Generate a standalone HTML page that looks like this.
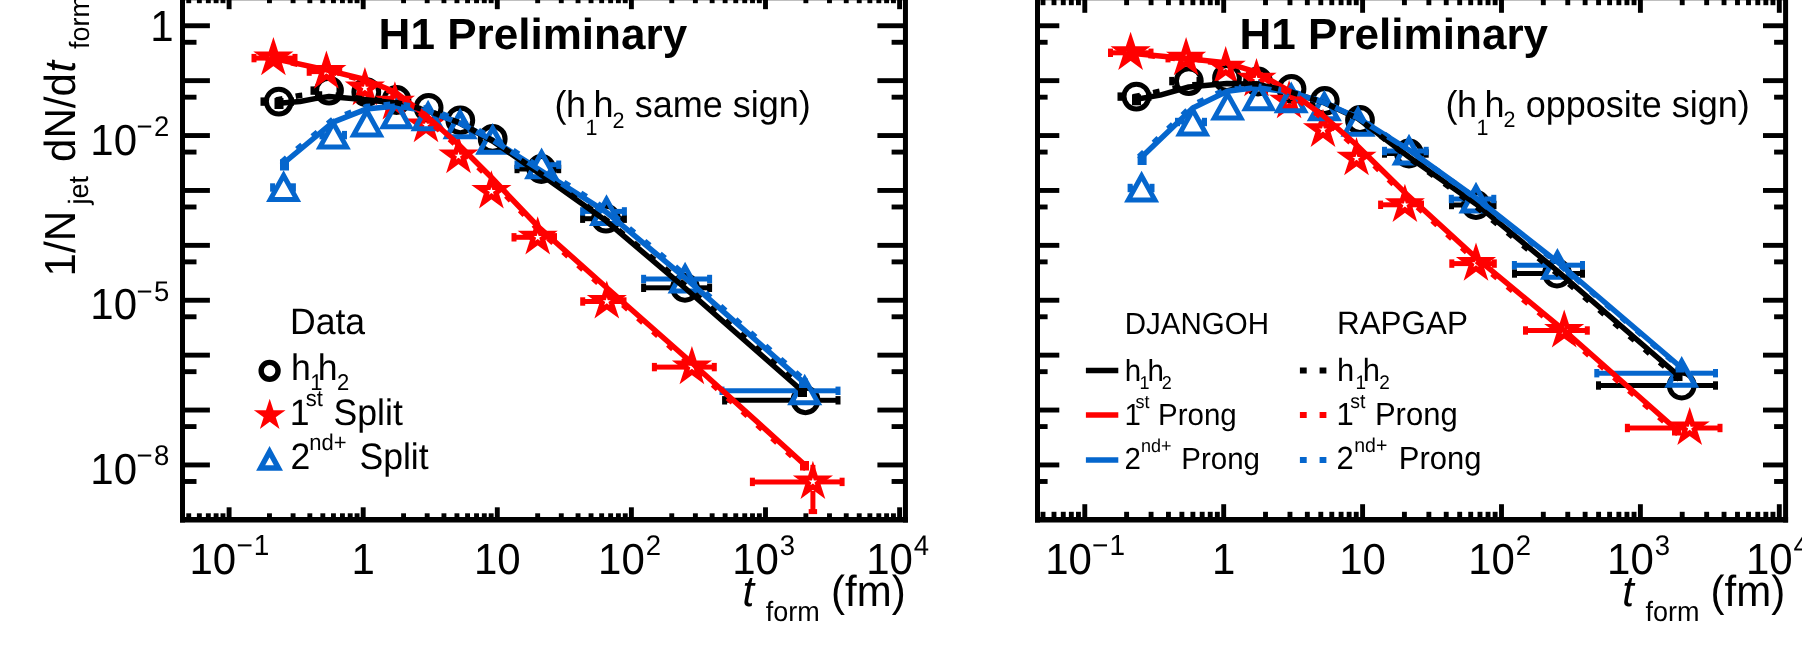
<!DOCTYPE html>
<html><head><meta charset="utf-8"><title>t_form</title>
<style>html,body{margin:0;padding:0;background:#fff;}svg{display:block;will-change:transform;}text{text-rendering:geometricPrecision;}</style>
</head><body>
<svg width="1802" height="658" viewBox="0 0 1802 658" font-family='"Liberation Sans", sans-serif' fill="#000000">
<rect x="0" y="0" width="1802" height="658" fill="#ffffff"/>
<line x1="188.73" y1="519.85" x2="188.73" y2="513.30" stroke="#000000" stroke-width="4.9" />
<line x1="188.73" y1="-2.50" x2="188.73" y2="3.20" stroke="#000000" stroke-width="4.9" />
<line x1="199.35" y1="519.85" x2="199.35" y2="513.30" stroke="#000000" stroke-width="4.9" />
<line x1="199.35" y1="-2.50" x2="199.35" y2="3.20" stroke="#000000" stroke-width="4.9" />
<line x1="208.33" y1="519.85" x2="208.33" y2="513.30" stroke="#000000" stroke-width="4.9" />
<line x1="208.33" y1="-2.50" x2="208.33" y2="3.20" stroke="#000000" stroke-width="4.9" />
<line x1="216.10" y1="519.85" x2="216.10" y2="513.30" stroke="#000000" stroke-width="4.9" />
<line x1="216.10" y1="-2.50" x2="216.10" y2="3.20" stroke="#000000" stroke-width="4.9" />
<line x1="222.96" y1="519.85" x2="222.96" y2="513.30" stroke="#000000" stroke-width="4.9" />
<line x1="222.96" y1="-2.50" x2="222.96" y2="3.20" stroke="#000000" stroke-width="4.9" />
<line x1="229.10" y1="519.85" x2="229.10" y2="507.30" stroke="#000000" stroke-width="4.9" />
<line x1="229.10" y1="-2.50" x2="229.10" y2="9.20" stroke="#000000" stroke-width="4.9" />
<line x1="269.47" y1="519.85" x2="269.47" y2="513.30" stroke="#000000" stroke-width="4.9" />
<line x1="269.47" y1="-2.50" x2="269.47" y2="3.20" stroke="#000000" stroke-width="4.9" />
<line x1="293.08" y1="519.85" x2="293.08" y2="513.30" stroke="#000000" stroke-width="4.9" />
<line x1="293.08" y1="-2.50" x2="293.08" y2="3.20" stroke="#000000" stroke-width="4.9" />
<line x1="309.84" y1="519.85" x2="309.84" y2="513.30" stroke="#000000" stroke-width="4.9" />
<line x1="309.84" y1="-2.50" x2="309.84" y2="3.20" stroke="#000000" stroke-width="4.9" />
<line x1="322.83" y1="519.85" x2="322.83" y2="513.30" stroke="#000000" stroke-width="4.9" />
<line x1="322.83" y1="-2.50" x2="322.83" y2="3.20" stroke="#000000" stroke-width="4.9" />
<line x1="333.45" y1="519.85" x2="333.45" y2="513.30" stroke="#000000" stroke-width="4.9" />
<line x1="333.45" y1="-2.50" x2="333.45" y2="3.20" stroke="#000000" stroke-width="4.9" />
<line x1="342.43" y1="519.85" x2="342.43" y2="513.30" stroke="#000000" stroke-width="4.9" />
<line x1="342.43" y1="-2.50" x2="342.43" y2="3.20" stroke="#000000" stroke-width="4.9" />
<line x1="350.20" y1="519.85" x2="350.20" y2="513.30" stroke="#000000" stroke-width="4.9" />
<line x1="350.20" y1="-2.50" x2="350.20" y2="3.20" stroke="#000000" stroke-width="4.9" />
<line x1="357.06" y1="519.85" x2="357.06" y2="513.30" stroke="#000000" stroke-width="4.9" />
<line x1="357.06" y1="-2.50" x2="357.06" y2="3.20" stroke="#000000" stroke-width="4.9" />
<line x1="363.20" y1="519.85" x2="363.20" y2="507.30" stroke="#000000" stroke-width="4.9" />
<line x1="363.20" y1="-2.50" x2="363.20" y2="9.20" stroke="#000000" stroke-width="4.9" />
<line x1="403.57" y1="519.85" x2="403.57" y2="513.30" stroke="#000000" stroke-width="4.9" />
<line x1="403.57" y1="-2.50" x2="403.57" y2="3.20" stroke="#000000" stroke-width="4.9" />
<line x1="427.18" y1="519.85" x2="427.18" y2="513.30" stroke="#000000" stroke-width="4.9" />
<line x1="427.18" y1="-2.50" x2="427.18" y2="3.20" stroke="#000000" stroke-width="4.9" />
<line x1="443.94" y1="519.85" x2="443.94" y2="513.30" stroke="#000000" stroke-width="4.9" />
<line x1="443.94" y1="-2.50" x2="443.94" y2="3.20" stroke="#000000" stroke-width="4.9" />
<line x1="456.93" y1="519.85" x2="456.93" y2="513.30" stroke="#000000" stroke-width="4.9" />
<line x1="456.93" y1="-2.50" x2="456.93" y2="3.20" stroke="#000000" stroke-width="4.9" />
<line x1="467.55" y1="519.85" x2="467.55" y2="513.30" stroke="#000000" stroke-width="4.9" />
<line x1="467.55" y1="-2.50" x2="467.55" y2="3.20" stroke="#000000" stroke-width="4.9" />
<line x1="476.53" y1="519.85" x2="476.53" y2="513.30" stroke="#000000" stroke-width="4.9" />
<line x1="476.53" y1="-2.50" x2="476.53" y2="3.20" stroke="#000000" stroke-width="4.9" />
<line x1="484.30" y1="519.85" x2="484.30" y2="513.30" stroke="#000000" stroke-width="4.9" />
<line x1="484.30" y1="-2.50" x2="484.30" y2="3.20" stroke="#000000" stroke-width="4.9" />
<line x1="491.16" y1="519.85" x2="491.16" y2="513.30" stroke="#000000" stroke-width="4.9" />
<line x1="491.16" y1="-2.50" x2="491.16" y2="3.20" stroke="#000000" stroke-width="4.9" />
<line x1="497.30" y1="519.85" x2="497.30" y2="507.30" stroke="#000000" stroke-width="4.9" />
<line x1="497.30" y1="-2.50" x2="497.30" y2="9.20" stroke="#000000" stroke-width="4.9" />
<line x1="537.67" y1="519.85" x2="537.67" y2="513.30" stroke="#000000" stroke-width="4.9" />
<line x1="537.67" y1="-2.50" x2="537.67" y2="3.20" stroke="#000000" stroke-width="4.9" />
<line x1="561.28" y1="519.85" x2="561.28" y2="513.30" stroke="#000000" stroke-width="4.9" />
<line x1="561.28" y1="-2.50" x2="561.28" y2="3.20" stroke="#000000" stroke-width="4.9" />
<line x1="578.04" y1="519.85" x2="578.04" y2="513.30" stroke="#000000" stroke-width="4.9" />
<line x1="578.04" y1="-2.50" x2="578.04" y2="3.20" stroke="#000000" stroke-width="4.9" />
<line x1="591.03" y1="519.85" x2="591.03" y2="513.30" stroke="#000000" stroke-width="4.9" />
<line x1="591.03" y1="-2.50" x2="591.03" y2="3.20" stroke="#000000" stroke-width="4.9" />
<line x1="601.65" y1="519.85" x2="601.65" y2="513.30" stroke="#000000" stroke-width="4.9" />
<line x1="601.65" y1="-2.50" x2="601.65" y2="3.20" stroke="#000000" stroke-width="4.9" />
<line x1="610.63" y1="519.85" x2="610.63" y2="513.30" stroke="#000000" stroke-width="4.9" />
<line x1="610.63" y1="-2.50" x2="610.63" y2="3.20" stroke="#000000" stroke-width="4.9" />
<line x1="618.40" y1="519.85" x2="618.40" y2="513.30" stroke="#000000" stroke-width="4.9" />
<line x1="618.40" y1="-2.50" x2="618.40" y2="3.20" stroke="#000000" stroke-width="4.9" />
<line x1="625.26" y1="519.85" x2="625.26" y2="513.30" stroke="#000000" stroke-width="4.9" />
<line x1="625.26" y1="-2.50" x2="625.26" y2="3.20" stroke="#000000" stroke-width="4.9" />
<line x1="631.40" y1="519.85" x2="631.40" y2="507.30" stroke="#000000" stroke-width="4.9" />
<line x1="631.40" y1="-2.50" x2="631.40" y2="9.20" stroke="#000000" stroke-width="4.9" />
<line x1="671.77" y1="519.85" x2="671.77" y2="513.30" stroke="#000000" stroke-width="4.9" />
<line x1="671.77" y1="-2.50" x2="671.77" y2="3.20" stroke="#000000" stroke-width="4.9" />
<line x1="695.38" y1="519.85" x2="695.38" y2="513.30" stroke="#000000" stroke-width="4.9" />
<line x1="695.38" y1="-2.50" x2="695.38" y2="3.20" stroke="#000000" stroke-width="4.9" />
<line x1="712.14" y1="519.85" x2="712.14" y2="513.30" stroke="#000000" stroke-width="4.9" />
<line x1="712.14" y1="-2.50" x2="712.14" y2="3.20" stroke="#000000" stroke-width="4.9" />
<line x1="725.13" y1="519.85" x2="725.13" y2="513.30" stroke="#000000" stroke-width="4.9" />
<line x1="725.13" y1="-2.50" x2="725.13" y2="3.20" stroke="#000000" stroke-width="4.9" />
<line x1="735.75" y1="519.85" x2="735.75" y2="513.30" stroke="#000000" stroke-width="4.9" />
<line x1="735.75" y1="-2.50" x2="735.75" y2="3.20" stroke="#000000" stroke-width="4.9" />
<line x1="744.73" y1="519.85" x2="744.73" y2="513.30" stroke="#000000" stroke-width="4.9" />
<line x1="744.73" y1="-2.50" x2="744.73" y2="3.20" stroke="#000000" stroke-width="4.9" />
<line x1="752.50" y1="519.85" x2="752.50" y2="513.30" stroke="#000000" stroke-width="4.9" />
<line x1="752.50" y1="-2.50" x2="752.50" y2="3.20" stroke="#000000" stroke-width="4.9" />
<line x1="759.36" y1="519.85" x2="759.36" y2="513.30" stroke="#000000" stroke-width="4.9" />
<line x1="759.36" y1="-2.50" x2="759.36" y2="3.20" stroke="#000000" stroke-width="4.9" />
<line x1="765.50" y1="519.85" x2="765.50" y2="507.30" stroke="#000000" stroke-width="4.9" />
<line x1="765.50" y1="-2.50" x2="765.50" y2="9.20" stroke="#000000" stroke-width="4.9" />
<line x1="805.87" y1="519.85" x2="805.87" y2="513.30" stroke="#000000" stroke-width="4.9" />
<line x1="805.87" y1="-2.50" x2="805.87" y2="3.20" stroke="#000000" stroke-width="4.9" />
<line x1="829.48" y1="519.85" x2="829.48" y2="513.30" stroke="#000000" stroke-width="4.9" />
<line x1="829.48" y1="-2.50" x2="829.48" y2="3.20" stroke="#000000" stroke-width="4.9" />
<line x1="846.24" y1="519.85" x2="846.24" y2="513.30" stroke="#000000" stroke-width="4.9" />
<line x1="846.24" y1="-2.50" x2="846.24" y2="3.20" stroke="#000000" stroke-width="4.9" />
<line x1="859.23" y1="519.85" x2="859.23" y2="513.30" stroke="#000000" stroke-width="4.9" />
<line x1="859.23" y1="-2.50" x2="859.23" y2="3.20" stroke="#000000" stroke-width="4.9" />
<line x1="869.85" y1="519.85" x2="869.85" y2="513.30" stroke="#000000" stroke-width="4.9" />
<line x1="869.85" y1="-2.50" x2="869.85" y2="3.20" stroke="#000000" stroke-width="4.9" />
<line x1="878.83" y1="519.85" x2="878.83" y2="513.30" stroke="#000000" stroke-width="4.9" />
<line x1="878.83" y1="-2.50" x2="878.83" y2="3.20" stroke="#000000" stroke-width="4.9" />
<line x1="886.60" y1="519.85" x2="886.60" y2="513.30" stroke="#000000" stroke-width="4.9" />
<line x1="886.60" y1="-2.50" x2="886.60" y2="3.20" stroke="#000000" stroke-width="4.9" />
<line x1="893.46" y1="519.85" x2="893.46" y2="513.30" stroke="#000000" stroke-width="4.9" />
<line x1="893.46" y1="-2.50" x2="893.46" y2="3.20" stroke="#000000" stroke-width="4.9" />
<line x1="899.60" y1="519.85" x2="899.60" y2="507.30" stroke="#000000" stroke-width="4.9" />
<line x1="899.60" y1="-2.50" x2="899.60" y2="9.20" stroke="#000000" stroke-width="4.9" />
<line x1="182.50" y1="25.75" x2="209.90" y2="25.75" stroke="#000000" stroke-width="4.9" />
<line x1="905.45" y1="25.75" x2="877.40" y2="25.75" stroke="#000000" stroke-width="4.9" />
<line x1="182.50" y1="42.28" x2="196.50" y2="42.28" stroke="#000000" stroke-width="4.9" />
<line x1="905.45" y1="42.28" x2="891.60" y2="42.28" stroke="#000000" stroke-width="4.9" />
<line x1="182.50" y1="80.65" x2="209.90" y2="80.65" stroke="#000000" stroke-width="4.9" />
<line x1="905.45" y1="80.65" x2="877.40" y2="80.65" stroke="#000000" stroke-width="4.9" />
<line x1="182.50" y1="97.18" x2="196.50" y2="97.18" stroke="#000000" stroke-width="4.9" />
<line x1="905.45" y1="97.18" x2="891.60" y2="97.18" stroke="#000000" stroke-width="4.9" />
<line x1="182.50" y1="135.55" x2="209.90" y2="135.55" stroke="#000000" stroke-width="4.9" />
<line x1="905.45" y1="135.55" x2="877.40" y2="135.55" stroke="#000000" stroke-width="4.9" />
<line x1="182.50" y1="152.08" x2="196.50" y2="152.08" stroke="#000000" stroke-width="4.9" />
<line x1="905.45" y1="152.08" x2="891.60" y2="152.08" stroke="#000000" stroke-width="4.9" />
<line x1="182.50" y1="190.45" x2="209.90" y2="190.45" stroke="#000000" stroke-width="4.9" />
<line x1="905.45" y1="190.45" x2="877.40" y2="190.45" stroke="#000000" stroke-width="4.9" />
<line x1="182.50" y1="206.98" x2="196.50" y2="206.98" stroke="#000000" stroke-width="4.9" />
<line x1="905.45" y1="206.98" x2="891.60" y2="206.98" stroke="#000000" stroke-width="4.9" />
<line x1="182.50" y1="245.35" x2="209.90" y2="245.35" stroke="#000000" stroke-width="4.9" />
<line x1="905.45" y1="245.35" x2="877.40" y2="245.35" stroke="#000000" stroke-width="4.9" />
<line x1="182.50" y1="261.88" x2="196.50" y2="261.88" stroke="#000000" stroke-width="4.9" />
<line x1="905.45" y1="261.88" x2="891.60" y2="261.88" stroke="#000000" stroke-width="4.9" />
<line x1="182.50" y1="300.25" x2="209.90" y2="300.25" stroke="#000000" stroke-width="4.9" />
<line x1="905.45" y1="300.25" x2="877.40" y2="300.25" stroke="#000000" stroke-width="4.9" />
<line x1="182.50" y1="316.78" x2="196.50" y2="316.78" stroke="#000000" stroke-width="4.9" />
<line x1="905.45" y1="316.78" x2="891.60" y2="316.78" stroke="#000000" stroke-width="4.9" />
<line x1="182.50" y1="355.15" x2="209.90" y2="355.15" stroke="#000000" stroke-width="4.9" />
<line x1="905.45" y1="355.15" x2="877.40" y2="355.15" stroke="#000000" stroke-width="4.9" />
<line x1="182.50" y1="371.68" x2="196.50" y2="371.68" stroke="#000000" stroke-width="4.9" />
<line x1="905.45" y1="371.68" x2="891.60" y2="371.68" stroke="#000000" stroke-width="4.9" />
<line x1="182.50" y1="410.05" x2="209.90" y2="410.05" stroke="#000000" stroke-width="4.9" />
<line x1="905.45" y1="410.05" x2="877.40" y2="410.05" stroke="#000000" stroke-width="4.9" />
<line x1="182.50" y1="426.58" x2="196.50" y2="426.58" stroke="#000000" stroke-width="4.9" />
<line x1="905.45" y1="426.58" x2="891.60" y2="426.58" stroke="#000000" stroke-width="4.9" />
<line x1="182.50" y1="464.95" x2="209.90" y2="464.95" stroke="#000000" stroke-width="4.9" />
<line x1="905.45" y1="464.95" x2="877.40" y2="464.95" stroke="#000000" stroke-width="4.9" />
<line x1="182.50" y1="481.48" x2="196.50" y2="481.48" stroke="#000000" stroke-width="4.9" />
<line x1="905.45" y1="481.48" x2="891.60" y2="481.48" stroke="#000000" stroke-width="4.9" />
<line x1="182.50" y1="-10.00" x2="182.50" y2="522.60" stroke="#000000" stroke-width="5" />
<line x1="905.45" y1="-10.00" x2="905.45" y2="522.60" stroke="#000000" stroke-width="5" />
<line x1="180.00" y1="519.85" x2="907.95" y2="519.85" stroke="#000000" stroke-width="5.5" />
<line x1="180.00" y1="-2.50" x2="907.95" y2="-2.50" stroke="#000000" stroke-width="5.6" />
<line x1="263.00" y1="101.60" x2="265.30" y2="101.60" stroke="#000000" stroke-width="5" />
<rect x="260.50" y="97.40" width="5.00" height="8.40" fill="#000000"/>
<rect x="289.00" y="97.40" width="5.00" height="8.40" fill="#000000"/>
<circle cx="278.80" cy="101.60" r="12.4" fill="none" stroke="#000000" stroke-width="5.0"/>
<line x1="313.00" y1="90.60" x2="315.50" y2="90.60" stroke="#000000" stroke-width="5" />
<rect x="310.50" y="86.40" width="5.00" height="8.40" fill="#000000"/>
<rect x="336.50" y="86.40" width="5.00" height="8.40" fill="#000000"/>
<circle cx="329.00" cy="90.60" r="12.4" fill="none" stroke="#000000" stroke-width="5.0"/>
<circle cx="366.30" cy="92.10" r="12.4" fill="none" stroke="#000000" stroke-width="5.0"/>
<circle cx="396.50" cy="100.00" r="12.4" fill="none" stroke="#000000" stroke-width="5.0"/>
<circle cx="428.60" cy="107.80" r="12.4" fill="none" stroke="#000000" stroke-width="5.0"/>
<circle cx="460.30" cy="120.30" r="12.4" fill="none" stroke="#000000" stroke-width="5.0"/>
<circle cx="492.70" cy="138.90" r="12.4" fill="none" stroke="#000000" stroke-width="5.0"/>
<line x1="517.00" y1="169.00" x2="527.90" y2="169.00" stroke="#000000" stroke-width="5" />
<rect x="514.50" y="164.80" width="5.00" height="8.40" fill="#000000"/>
<line x1="554.90" y1="169.00" x2="558.70" y2="169.00" stroke="#000000" stroke-width="5" />
<rect x="556.20" y="164.80" width="5.00" height="8.40" fill="#000000"/>
<circle cx="541.40" cy="169.00" r="12.4" fill="none" stroke="#000000" stroke-width="5.0"/>
<line x1="582.60" y1="218.70" x2="592.50" y2="218.70" stroke="#000000" stroke-width="5" />
<rect x="580.10" y="214.50" width="5.00" height="8.40" fill="#000000"/>
<line x1="619.50" y1="218.70" x2="624.40" y2="218.70" stroke="#000000" stroke-width="5" />
<rect x="621.90" y="214.50" width="5.00" height="8.40" fill="#000000"/>
<circle cx="606.00" cy="218.70" r="12.4" fill="none" stroke="#000000" stroke-width="5.0"/>
<line x1="643.60" y1="287.80" x2="671.50" y2="287.80" stroke="#000000" stroke-width="5" />
<rect x="641.10" y="283.60" width="5.00" height="8.40" fill="#000000"/>
<line x1="698.50" y1="287.80" x2="709.60" y2="287.80" stroke="#000000" stroke-width="5" />
<rect x="707.10" y="283.60" width="5.00" height="8.40" fill="#000000"/>
<circle cx="685.00" cy="287.80" r="12.4" fill="none" stroke="#000000" stroke-width="5.0"/>
<line x1="724.60" y1="400.30" x2="792.00" y2="400.30" stroke="#000000" stroke-width="5" />
<rect x="722.10" y="396.10" width="5.00" height="8.40" fill="#000000"/>
<line x1="819.00" y1="400.30" x2="838.00" y2="400.30" stroke="#000000" stroke-width="5" />
<rect x="835.50" y="396.10" width="5.00" height="8.40" fill="#000000"/>
<circle cx="805.50" cy="400.30" r="12.4" fill="none" stroke="#000000" stroke-width="5.0"/>
<line x1="254.00" y1="58.10" x2="266.40" y2="58.10" stroke="#ff0000" stroke-width="5" />
<rect x="251.50" y="53.90" width="5.00" height="8.40" fill="#ff0000"/>
<line x1="280.40" y1="58.10" x2="295.00" y2="58.10" stroke="#ff0000" stroke-width="5" />
<rect x="292.50" y="53.90" width="5.00" height="8.40" fill="#ff0000"/>
<path d="M273.40,45.40 L276.25,54.18 L285.48,54.18 L278.01,59.60 L280.86,68.37 L273.40,62.95 L265.94,68.37 L268.79,59.60 L261.32,54.18 L270.55,54.18 Z" fill="none" stroke="#ff0000" stroke-width="5.2" stroke-linejoin="miter" stroke-miterlimit="10"/>
<line x1="309.20" y1="71.60" x2="319.40" y2="71.60" stroke="#ff0000" stroke-width="5" />
<rect x="306.70" y="67.40" width="5.00" height="8.40" fill="#ff0000"/>
<line x1="333.40" y1="71.60" x2="339.70" y2="71.60" stroke="#ff0000" stroke-width="5" />
<rect x="337.20" y="67.40" width="5.00" height="8.40" fill="#ff0000"/>
<path d="M326.40,58.90 L329.25,67.68 L338.48,67.68 L331.01,73.10 L333.86,81.87 L326.40,76.45 L318.94,81.87 L321.79,73.10 L314.32,67.68 L323.55,67.68 Z" fill="none" stroke="#ff0000" stroke-width="5.2" stroke-linejoin="miter" stroke-miterlimit="10"/>
<path d="M364.90,75.40 L367.75,84.18 L376.98,84.18 L369.51,89.60 L372.36,98.37 L364.90,92.95 L357.44,98.37 L360.29,89.60 L352.82,84.18 L362.05,84.18 Z" fill="none" stroke="#ff0000" stroke-width="5.2" stroke-linejoin="miter" stroke-miterlimit="10"/>
<path d="M394.90,89.60 L397.75,98.38 L406.98,98.38 L399.51,103.80 L402.36,112.57 L394.90,107.15 L387.44,112.57 L390.29,103.80 L382.82,98.38 L392.05,98.38 Z" fill="none" stroke="#ff0000" stroke-width="5.2" stroke-linejoin="miter" stroke-miterlimit="10"/>
<path d="M426.00,112.40 L428.85,121.18 L438.08,121.18 L430.61,126.60 L433.46,135.37 L426.00,129.95 L418.54,135.37 L421.39,126.60 L413.92,121.18 L423.15,121.18 Z" fill="none" stroke="#ff0000" stroke-width="5.2" stroke-linejoin="miter" stroke-miterlimit="10"/>
<path d="M458.50,143.40 L461.35,152.18 L470.58,152.18 L463.11,157.60 L465.96,166.37 L458.50,160.95 L451.04,166.37 L453.89,157.60 L446.42,152.18 L455.65,152.18 Z" fill="none" stroke="#ff0000" stroke-width="5.2" stroke-linejoin="miter" stroke-miterlimit="10"/>
<path d="M491.40,178.70 L494.25,187.48 L503.48,187.48 L496.01,192.90 L498.86,201.67 L491.40,196.25 L483.94,201.67 L486.79,192.90 L479.32,187.48 L488.55,187.48 Z" fill="none" stroke="#ff0000" stroke-width="5.2" stroke-linejoin="miter" stroke-miterlimit="10"/>
<line x1="514.00" y1="237.30" x2="530.70" y2="237.30" stroke="#ff0000" stroke-width="5" />
<rect x="511.50" y="233.10" width="5.00" height="8.40" fill="#ff0000"/>
<line x1="544.70" y1="237.30" x2="554.50" y2="237.30" stroke="#ff0000" stroke-width="5" />
<rect x="552.00" y="233.10" width="5.00" height="8.40" fill="#ff0000"/>
<path d="M537.70,224.60 L540.55,233.38 L549.78,233.38 L542.31,238.80 L545.16,247.57 L537.70,242.15 L530.24,247.57 L533.09,238.80 L525.62,233.38 L534.85,233.38 Z" fill="none" stroke="#ff0000" stroke-width="5.2" stroke-linejoin="miter" stroke-miterlimit="10"/>
<line x1="582.70" y1="301.50" x2="599.80" y2="301.50" stroke="#ff0000" stroke-width="5" />
<rect x="580.20" y="297.30" width="5.00" height="8.40" fill="#ff0000"/>
<line x1="613.80" y1="301.50" x2="624.00" y2="301.50" stroke="#ff0000" stroke-width="5" />
<rect x="621.50" y="297.30" width="5.00" height="8.40" fill="#ff0000"/>
<path d="M606.80,288.80 L609.65,297.58 L618.88,297.58 L611.41,303.00 L614.26,311.77 L606.80,306.35 L599.34,311.77 L602.19,303.00 L594.72,297.58 L603.95,297.58 Z" fill="none" stroke="#ff0000" stroke-width="5.2" stroke-linejoin="miter" stroke-miterlimit="10"/>
<line x1="654.40" y1="367.10" x2="684.90" y2="367.10" stroke="#ff0000" stroke-width="5" />
<rect x="651.90" y="362.90" width="5.00" height="8.40" fill="#ff0000"/>
<line x1="698.90" y1="367.10" x2="714.30" y2="367.10" stroke="#ff0000" stroke-width="5" />
<rect x="711.80" y="362.90" width="5.00" height="8.40" fill="#ff0000"/>
<path d="M691.90,354.40 L694.75,363.18 L703.98,363.18 L696.51,368.60 L699.36,377.37 L691.90,371.95 L684.44,377.37 L687.29,368.60 L679.82,363.18 L689.05,363.18 Z" fill="none" stroke="#ff0000" stroke-width="5.2" stroke-linejoin="miter" stroke-miterlimit="10"/>
<line x1="752.40" y1="481.90" x2="805.90" y2="481.90" stroke="#ff0000" stroke-width="5" />
<rect x="749.90" y="477.70" width="5.00" height="8.40" fill="#ff0000"/>
<line x1="819.90" y1="481.90" x2="842.10" y2="481.90" stroke="#ff0000" stroke-width="5" />
<rect x="839.60" y="477.70" width="5.00" height="8.40" fill="#ff0000"/>
<path d="M812.90,469.20 L815.75,477.98 L824.98,477.98 L817.51,483.40 L820.36,492.17 L812.90,486.75 L805.44,492.17 L808.29,483.40 L800.82,477.98 L810.05,477.98 Z" fill="none" stroke="#ff0000" stroke-width="5.2" stroke-linejoin="miter" stroke-miterlimit="10"/>
<line x1="812.90" y1="490.90" x2="812.90" y2="511.60" stroke="#ff0000" stroke-width="5" />
<rect x="808.70" y="509.10" width="8.40" height="5.00" fill="#ff0000"/>
<line x1="812.90" y1="469.90" x2="812.90" y2="464.90" stroke="#ff0000" stroke-width="5" />
<line x1="272.60" y1="187.50" x2="275.10" y2="187.50" stroke="#0566cd" stroke-width="5" />
<rect x="270.10" y="183.30" width="5.00" height="8.40" fill="#0566cd"/>
<line x1="292.10" y1="187.50" x2="293.40" y2="187.50" stroke="#0566cd" stroke-width="5" />
<rect x="290.90" y="183.30" width="5.00" height="8.40" fill="#0566cd"/>
<path d="M270.30,199.50 L296.90,199.50 L283.60,175.50 Z" fill="none" stroke="#0566cd" stroke-width="5.0" stroke-linejoin="miter" stroke-miterlimit="10"/>
<line x1="322.00" y1="135.10" x2="324.80" y2="135.10" stroke="#0566cd" stroke-width="5" />
<rect x="319.50" y="130.90" width="5.00" height="8.40" fill="#0566cd"/>
<line x1="341.80" y1="135.10" x2="344.50" y2="135.10" stroke="#0566cd" stroke-width="5" />
<rect x="342.00" y="130.90" width="5.00" height="8.40" fill="#0566cd"/>
<path d="M320.00,147.10 L346.60,147.10 L333.30,123.10 Z" fill="none" stroke="#0566cd" stroke-width="5.0" stroke-linejoin="miter" stroke-miterlimit="10"/>
<path d="M353.60,135.00 L380.20,135.00 L366.90,111.00 Z" fill="none" stroke="#0566cd" stroke-width="5.0" stroke-linejoin="miter" stroke-miterlimit="10"/>
<path d="M383.20,126.70 L409.80,126.70 L396.50,102.70 Z" fill="none" stroke="#0566cd" stroke-width="5.0" stroke-linejoin="miter" stroke-miterlimit="10"/>
<path d="M414.80,128.80 L441.40,128.80 L428.10,104.80 Z" fill="none" stroke="#0566cd" stroke-width="5.0" stroke-linejoin="miter" stroke-miterlimit="10"/>
<path d="M446.80,136.70 L473.40,136.70 L460.10,112.70 Z" fill="none" stroke="#0566cd" stroke-width="5.0" stroke-linejoin="miter" stroke-miterlimit="10"/>
<path d="M479.40,152.20 L506.00,152.20 L492.70,128.20 Z" fill="none" stroke="#0566cd" stroke-width="5.0" stroke-linejoin="miter" stroke-miterlimit="10"/>
<line x1="517.00" y1="164.70" x2="533.10" y2="164.70" stroke="#0566cd" stroke-width="5" />
<rect x="514.50" y="160.50" width="5.00" height="8.40" fill="#0566cd"/>
<line x1="550.10" y1="164.70" x2="558.70" y2="164.70" stroke="#0566cd" stroke-width="5" />
<rect x="556.20" y="160.50" width="5.00" height="8.40" fill="#0566cd"/>
<path d="M528.30,176.70 L554.90,176.70 L541.60,152.70 Z" fill="none" stroke="#0566cd" stroke-width="5.0" stroke-linejoin="miter" stroke-miterlimit="10"/>
<line x1="582.60" y1="211.40" x2="598.00" y2="211.40" stroke="#0566cd" stroke-width="5" />
<rect x="580.10" y="207.20" width="5.00" height="8.40" fill="#0566cd"/>
<line x1="615.00" y1="211.40" x2="624.40" y2="211.40" stroke="#0566cd" stroke-width="5" />
<rect x="621.90" y="207.20" width="5.00" height="8.40" fill="#0566cd"/>
<path d="M593.20,223.40 L619.80,223.40 L606.50,199.40 Z" fill="none" stroke="#0566cd" stroke-width="5.0" stroke-linejoin="miter" stroke-miterlimit="10"/>
<line x1="643.60" y1="279.00" x2="676.60" y2="279.00" stroke="#0566cd" stroke-width="5" />
<rect x="641.10" y="274.80" width="5.00" height="8.40" fill="#0566cd"/>
<line x1="693.60" y1="279.00" x2="709.60" y2="279.00" stroke="#0566cd" stroke-width="5" />
<rect x="707.10" y="274.80" width="5.00" height="8.40" fill="#0566cd"/>
<path d="M671.80,291.00 L698.40,291.00 L685.10,267.00 Z" fill="none" stroke="#0566cd" stroke-width="5.0" stroke-linejoin="miter" stroke-miterlimit="10"/>
<line x1="722.00" y1="390.80" x2="796.20" y2="390.80" stroke="#0566cd" stroke-width="5" />
<rect x="719.50" y="386.60" width="5.00" height="8.40" fill="#0566cd"/>
<line x1="813.20" y1="390.80" x2="838.00" y2="390.80" stroke="#0566cd" stroke-width="5" />
<rect x="835.50" y="386.60" width="5.00" height="8.40" fill="#0566cd"/>
<path d="M791.40,402.80 L818.00,402.80 L804.70,378.80 Z" fill="none" stroke="#0566cd" stroke-width="5.0" stroke-linejoin="miter" stroke-miterlimit="10"/>
<path d="M276.00,103.50 L300.00,101.50 L315.00,98.60 L329.00,96.50 L366.00,99.70 L396.00,103.00 L428.00,111.00 L460.00,123.30 L492.50,141.00 L541.50,175.00 L606.30,221.10 L685.00,288.00 L804.00,392.50" fill="none" stroke="#000000" stroke-width="5.5" stroke-linejoin="round" />
<path d="M281.50,165.00 L333.10,122.10 L366.20,109.10 L396.30,106.10 L428.40,111.10 L460.00,123.30 L492.50,140.00 L541.50,171.00 L606.30,212.10 L685.40,278.10 L805.00,383.50" fill="none" stroke="#0566cd" stroke-width="5.5" stroke-linejoin="round" />
<path d="M271.50,58.00 L326.40,69.90 L365.00,79.50 L395.00,92.00 L426.00,115.50 L458.50,144.50 L491.50,177.50 L538.00,226.50 L607.00,288.00 L692.00,363.00 L806.00,466.00" fill="none" stroke="#ff0000" stroke-width="5.5" stroke-linejoin="round" />
<path d="M271.50,58.50 L326.40,70.90 L365.00,80.50 L395.00,93.50 L426.00,118.00 L458.50,147.50 L491.50,180.50 L538.00,229.50 L607.00,291.00 L692.00,366.00 L806.00,469.00" fill="none" stroke="#ff0000" stroke-width="5.5" stroke-linejoin="round" stroke-dasharray="6.7 13.3" stroke-dashoffset="0"/>
<path d="M281.50,162.00 L333.10,119.10 L366.20,106.60 L396.30,103.60 L428.40,108.60 L460.00,120.80 L492.50,137.50 L541.50,168.20 L606.30,209.10 L685.40,275.10 L805.00,380.50" fill="none" stroke="#0566cd" stroke-width="5.5" stroke-linejoin="round" stroke-dasharray="6.7 13.3" stroke-dashoffset="0"/>
<path d="M276.00,100.00 L300.00,95.50 L315.00,94.10 L329.00,94.00 L366.00,99.20 L396.00,102.50 L428.00,110.50 L460.00,123.00 L492.50,140.50 L541.50,174.20 L606.30,219.90 L685.00,285.20 L804.00,389.50" fill="none" stroke="#000000" stroke-width="5.5" stroke-linejoin="round" stroke-dasharray="6.7 13.3" stroke-dashoffset="0"/>
<rect x="274.50" y="98.00" width="9.00" height="11.00" fill="#000000"/>
<rect x="798.00" y="387.50" width="9.00" height="9.50" fill="#000000"/>
<rect x="270.00" y="52.50" width="9.00" height="11.00" fill="#ff0000"/>
<rect x="800.00" y="461.00" width="9.00" height="9.50" fill="#ff0000"/>
<rect x="280.00" y="159.50" width="9.00" height="11.00" fill="#0566cd"/>
<rect x="799.00" y="378.50" width="9.00" height="9.50" fill="#0566cd"/>
<line x1="1042.99" y1="519.85" x2="1042.99" y2="511.80" stroke="#000000" stroke-width="4.9" />
<line x1="1042.99" y1="-2.50" x2="1042.99" y2="5.20" stroke="#000000" stroke-width="4.9" />
<line x1="1053.99" y1="519.85" x2="1053.99" y2="511.80" stroke="#000000" stroke-width="4.9" />
<line x1="1053.99" y1="-2.50" x2="1053.99" y2="5.20" stroke="#000000" stroke-width="4.9" />
<line x1="1063.28" y1="519.85" x2="1063.28" y2="511.80" stroke="#000000" stroke-width="4.9" />
<line x1="1063.28" y1="-2.50" x2="1063.28" y2="5.20" stroke="#000000" stroke-width="4.9" />
<line x1="1071.34" y1="519.85" x2="1071.34" y2="511.80" stroke="#000000" stroke-width="4.9" />
<line x1="1071.34" y1="-2.50" x2="1071.34" y2="5.20" stroke="#000000" stroke-width="4.9" />
<line x1="1078.44" y1="519.85" x2="1078.44" y2="511.80" stroke="#000000" stroke-width="4.9" />
<line x1="1078.44" y1="-2.50" x2="1078.44" y2="5.20" stroke="#000000" stroke-width="4.9" />
<line x1="1084.80" y1="519.85" x2="1084.80" y2="504.20" stroke="#000000" stroke-width="4.9" />
<line x1="1084.80" y1="-2.50" x2="1084.80" y2="12.80" stroke="#000000" stroke-width="4.9" />
<line x1="1126.61" y1="519.85" x2="1126.61" y2="511.80" stroke="#000000" stroke-width="4.9" />
<line x1="1126.61" y1="-2.50" x2="1126.61" y2="5.20" stroke="#000000" stroke-width="4.9" />
<line x1="1151.07" y1="519.85" x2="1151.07" y2="511.80" stroke="#000000" stroke-width="4.9" />
<line x1="1151.07" y1="-2.50" x2="1151.07" y2="5.20" stroke="#000000" stroke-width="4.9" />
<line x1="1168.43" y1="519.85" x2="1168.43" y2="511.80" stroke="#000000" stroke-width="4.9" />
<line x1="1168.43" y1="-2.50" x2="1168.43" y2="5.20" stroke="#000000" stroke-width="4.9" />
<line x1="1181.89" y1="519.85" x2="1181.89" y2="511.80" stroke="#000000" stroke-width="4.9" />
<line x1="1181.89" y1="-2.50" x2="1181.89" y2="5.20" stroke="#000000" stroke-width="4.9" />
<line x1="1192.89" y1="519.85" x2="1192.89" y2="511.80" stroke="#000000" stroke-width="4.9" />
<line x1="1192.89" y1="-2.50" x2="1192.89" y2="5.20" stroke="#000000" stroke-width="4.9" />
<line x1="1202.18" y1="519.85" x2="1202.18" y2="511.80" stroke="#000000" stroke-width="4.9" />
<line x1="1202.18" y1="-2.50" x2="1202.18" y2="5.20" stroke="#000000" stroke-width="4.9" />
<line x1="1210.24" y1="519.85" x2="1210.24" y2="511.80" stroke="#000000" stroke-width="4.9" />
<line x1="1210.24" y1="-2.50" x2="1210.24" y2="5.20" stroke="#000000" stroke-width="4.9" />
<line x1="1217.34" y1="519.85" x2="1217.34" y2="511.80" stroke="#000000" stroke-width="4.9" />
<line x1="1217.34" y1="-2.50" x2="1217.34" y2="5.20" stroke="#000000" stroke-width="4.9" />
<line x1="1223.70" y1="519.85" x2="1223.70" y2="504.20" stroke="#000000" stroke-width="4.9" />
<line x1="1223.70" y1="-2.50" x2="1223.70" y2="12.80" stroke="#000000" stroke-width="4.9" />
<line x1="1265.51" y1="519.85" x2="1265.51" y2="511.80" stroke="#000000" stroke-width="4.9" />
<line x1="1265.51" y1="-2.50" x2="1265.51" y2="5.20" stroke="#000000" stroke-width="4.9" />
<line x1="1289.97" y1="519.85" x2="1289.97" y2="511.80" stroke="#000000" stroke-width="4.9" />
<line x1="1289.97" y1="-2.50" x2="1289.97" y2="5.20" stroke="#000000" stroke-width="4.9" />
<line x1="1307.33" y1="519.85" x2="1307.33" y2="511.80" stroke="#000000" stroke-width="4.9" />
<line x1="1307.33" y1="-2.50" x2="1307.33" y2="5.20" stroke="#000000" stroke-width="4.9" />
<line x1="1320.79" y1="519.85" x2="1320.79" y2="511.80" stroke="#000000" stroke-width="4.9" />
<line x1="1320.79" y1="-2.50" x2="1320.79" y2="5.20" stroke="#000000" stroke-width="4.9" />
<line x1="1331.79" y1="519.85" x2="1331.79" y2="511.80" stroke="#000000" stroke-width="4.9" />
<line x1="1331.79" y1="-2.50" x2="1331.79" y2="5.20" stroke="#000000" stroke-width="4.9" />
<line x1="1341.08" y1="519.85" x2="1341.08" y2="511.80" stroke="#000000" stroke-width="4.9" />
<line x1="1341.08" y1="-2.50" x2="1341.08" y2="5.20" stroke="#000000" stroke-width="4.9" />
<line x1="1349.14" y1="519.85" x2="1349.14" y2="511.80" stroke="#000000" stroke-width="4.9" />
<line x1="1349.14" y1="-2.50" x2="1349.14" y2="5.20" stroke="#000000" stroke-width="4.9" />
<line x1="1356.24" y1="519.85" x2="1356.24" y2="511.80" stroke="#000000" stroke-width="4.9" />
<line x1="1356.24" y1="-2.50" x2="1356.24" y2="5.20" stroke="#000000" stroke-width="4.9" />
<line x1="1362.60" y1="519.85" x2="1362.60" y2="504.20" stroke="#000000" stroke-width="4.9" />
<line x1="1362.60" y1="-2.50" x2="1362.60" y2="12.80" stroke="#000000" stroke-width="4.9" />
<line x1="1404.41" y1="519.85" x2="1404.41" y2="511.80" stroke="#000000" stroke-width="4.9" />
<line x1="1404.41" y1="-2.50" x2="1404.41" y2="5.20" stroke="#000000" stroke-width="4.9" />
<line x1="1428.87" y1="519.85" x2="1428.87" y2="511.80" stroke="#000000" stroke-width="4.9" />
<line x1="1428.87" y1="-2.50" x2="1428.87" y2="5.20" stroke="#000000" stroke-width="4.9" />
<line x1="1446.23" y1="519.85" x2="1446.23" y2="511.80" stroke="#000000" stroke-width="4.9" />
<line x1="1446.23" y1="-2.50" x2="1446.23" y2="5.20" stroke="#000000" stroke-width="4.9" />
<line x1="1459.69" y1="519.85" x2="1459.69" y2="511.80" stroke="#000000" stroke-width="4.9" />
<line x1="1459.69" y1="-2.50" x2="1459.69" y2="5.20" stroke="#000000" stroke-width="4.9" />
<line x1="1470.69" y1="519.85" x2="1470.69" y2="511.80" stroke="#000000" stroke-width="4.9" />
<line x1="1470.69" y1="-2.50" x2="1470.69" y2="5.20" stroke="#000000" stroke-width="4.9" />
<line x1="1479.98" y1="519.85" x2="1479.98" y2="511.80" stroke="#000000" stroke-width="4.9" />
<line x1="1479.98" y1="-2.50" x2="1479.98" y2="5.20" stroke="#000000" stroke-width="4.9" />
<line x1="1488.04" y1="519.85" x2="1488.04" y2="511.80" stroke="#000000" stroke-width="4.9" />
<line x1="1488.04" y1="-2.50" x2="1488.04" y2="5.20" stroke="#000000" stroke-width="4.9" />
<line x1="1495.14" y1="519.85" x2="1495.14" y2="511.80" stroke="#000000" stroke-width="4.9" />
<line x1="1495.14" y1="-2.50" x2="1495.14" y2="5.20" stroke="#000000" stroke-width="4.9" />
<line x1="1501.50" y1="519.85" x2="1501.50" y2="504.20" stroke="#000000" stroke-width="4.9" />
<line x1="1501.50" y1="-2.50" x2="1501.50" y2="12.80" stroke="#000000" stroke-width="4.9" />
<line x1="1543.31" y1="519.85" x2="1543.31" y2="511.80" stroke="#000000" stroke-width="4.9" />
<line x1="1543.31" y1="-2.50" x2="1543.31" y2="5.20" stroke="#000000" stroke-width="4.9" />
<line x1="1567.77" y1="519.85" x2="1567.77" y2="511.80" stroke="#000000" stroke-width="4.9" />
<line x1="1567.77" y1="-2.50" x2="1567.77" y2="5.20" stroke="#000000" stroke-width="4.9" />
<line x1="1585.13" y1="519.85" x2="1585.13" y2="511.80" stroke="#000000" stroke-width="4.9" />
<line x1="1585.13" y1="-2.50" x2="1585.13" y2="5.20" stroke="#000000" stroke-width="4.9" />
<line x1="1598.59" y1="519.85" x2="1598.59" y2="511.80" stroke="#000000" stroke-width="4.9" />
<line x1="1598.59" y1="-2.50" x2="1598.59" y2="5.20" stroke="#000000" stroke-width="4.9" />
<line x1="1609.59" y1="519.85" x2="1609.59" y2="511.80" stroke="#000000" stroke-width="4.9" />
<line x1="1609.59" y1="-2.50" x2="1609.59" y2="5.20" stroke="#000000" stroke-width="4.9" />
<line x1="1618.88" y1="519.85" x2="1618.88" y2="511.80" stroke="#000000" stroke-width="4.9" />
<line x1="1618.88" y1="-2.50" x2="1618.88" y2="5.20" stroke="#000000" stroke-width="4.9" />
<line x1="1626.94" y1="519.85" x2="1626.94" y2="511.80" stroke="#000000" stroke-width="4.9" />
<line x1="1626.94" y1="-2.50" x2="1626.94" y2="5.20" stroke="#000000" stroke-width="4.9" />
<line x1="1634.04" y1="519.85" x2="1634.04" y2="511.80" stroke="#000000" stroke-width="4.9" />
<line x1="1634.04" y1="-2.50" x2="1634.04" y2="5.20" stroke="#000000" stroke-width="4.9" />
<line x1="1640.40" y1="519.85" x2="1640.40" y2="504.20" stroke="#000000" stroke-width="4.9" />
<line x1="1640.40" y1="-2.50" x2="1640.40" y2="12.80" stroke="#000000" stroke-width="4.9" />
<line x1="1682.21" y1="519.85" x2="1682.21" y2="511.80" stroke="#000000" stroke-width="4.9" />
<line x1="1682.21" y1="-2.50" x2="1682.21" y2="5.20" stroke="#000000" stroke-width="4.9" />
<line x1="1706.67" y1="519.85" x2="1706.67" y2="511.80" stroke="#000000" stroke-width="4.9" />
<line x1="1706.67" y1="-2.50" x2="1706.67" y2="5.20" stroke="#000000" stroke-width="4.9" />
<line x1="1724.03" y1="519.85" x2="1724.03" y2="511.80" stroke="#000000" stroke-width="4.9" />
<line x1="1724.03" y1="-2.50" x2="1724.03" y2="5.20" stroke="#000000" stroke-width="4.9" />
<line x1="1737.49" y1="519.85" x2="1737.49" y2="511.80" stroke="#000000" stroke-width="4.9" />
<line x1="1737.49" y1="-2.50" x2="1737.49" y2="5.20" stroke="#000000" stroke-width="4.9" />
<line x1="1748.49" y1="519.85" x2="1748.49" y2="511.80" stroke="#000000" stroke-width="4.9" />
<line x1="1748.49" y1="-2.50" x2="1748.49" y2="5.20" stroke="#000000" stroke-width="4.9" />
<line x1="1757.78" y1="519.85" x2="1757.78" y2="511.80" stroke="#000000" stroke-width="4.9" />
<line x1="1757.78" y1="-2.50" x2="1757.78" y2="5.20" stroke="#000000" stroke-width="4.9" />
<line x1="1765.84" y1="519.85" x2="1765.84" y2="511.80" stroke="#000000" stroke-width="4.9" />
<line x1="1765.84" y1="-2.50" x2="1765.84" y2="5.20" stroke="#000000" stroke-width="4.9" />
<line x1="1772.94" y1="519.85" x2="1772.94" y2="511.80" stroke="#000000" stroke-width="4.9" />
<line x1="1772.94" y1="-2.50" x2="1772.94" y2="5.20" stroke="#000000" stroke-width="4.9" />
<line x1="1779.30" y1="519.85" x2="1779.30" y2="504.20" stroke="#000000" stroke-width="4.9" />
<line x1="1779.30" y1="-2.50" x2="1779.30" y2="12.80" stroke="#000000" stroke-width="4.9" />
<line x1="1037.50" y1="25.75" x2="1059.30" y2="25.75" stroke="#000000" stroke-width="4.9" />
<line x1="1785.60" y1="25.75" x2="1763.00" y2="25.75" stroke="#000000" stroke-width="4.9" />
<line x1="1037.50" y1="42.28" x2="1047.60" y2="42.28" stroke="#000000" stroke-width="4.9" />
<line x1="1785.60" y1="42.28" x2="1774.10" y2="42.28" stroke="#000000" stroke-width="4.9" />
<line x1="1037.50" y1="80.65" x2="1059.30" y2="80.65" stroke="#000000" stroke-width="4.9" />
<line x1="1785.60" y1="80.65" x2="1763.00" y2="80.65" stroke="#000000" stroke-width="4.9" />
<line x1="1037.50" y1="97.18" x2="1047.60" y2="97.18" stroke="#000000" stroke-width="4.9" />
<line x1="1785.60" y1="97.18" x2="1774.10" y2="97.18" stroke="#000000" stroke-width="4.9" />
<line x1="1037.50" y1="135.55" x2="1059.30" y2="135.55" stroke="#000000" stroke-width="4.9" />
<line x1="1785.60" y1="135.55" x2="1763.00" y2="135.55" stroke="#000000" stroke-width="4.9" />
<line x1="1037.50" y1="152.08" x2="1047.60" y2="152.08" stroke="#000000" stroke-width="4.9" />
<line x1="1785.60" y1="152.08" x2="1774.10" y2="152.08" stroke="#000000" stroke-width="4.9" />
<line x1="1037.50" y1="190.45" x2="1059.30" y2="190.45" stroke="#000000" stroke-width="4.9" />
<line x1="1785.60" y1="190.45" x2="1763.00" y2="190.45" stroke="#000000" stroke-width="4.9" />
<line x1="1037.50" y1="206.98" x2="1047.60" y2="206.98" stroke="#000000" stroke-width="4.9" />
<line x1="1785.60" y1="206.98" x2="1774.10" y2="206.98" stroke="#000000" stroke-width="4.9" />
<line x1="1037.50" y1="245.35" x2="1059.30" y2="245.35" stroke="#000000" stroke-width="4.9" />
<line x1="1785.60" y1="245.35" x2="1763.00" y2="245.35" stroke="#000000" stroke-width="4.9" />
<line x1="1037.50" y1="261.88" x2="1047.60" y2="261.88" stroke="#000000" stroke-width="4.9" />
<line x1="1785.60" y1="261.88" x2="1774.10" y2="261.88" stroke="#000000" stroke-width="4.9" />
<line x1="1037.50" y1="300.25" x2="1059.30" y2="300.25" stroke="#000000" stroke-width="4.9" />
<line x1="1785.60" y1="300.25" x2="1763.00" y2="300.25" stroke="#000000" stroke-width="4.9" />
<line x1="1037.50" y1="316.78" x2="1047.60" y2="316.78" stroke="#000000" stroke-width="4.9" />
<line x1="1785.60" y1="316.78" x2="1774.10" y2="316.78" stroke="#000000" stroke-width="4.9" />
<line x1="1037.50" y1="355.15" x2="1059.30" y2="355.15" stroke="#000000" stroke-width="4.9" />
<line x1="1785.60" y1="355.15" x2="1763.00" y2="355.15" stroke="#000000" stroke-width="4.9" />
<line x1="1037.50" y1="371.68" x2="1047.60" y2="371.68" stroke="#000000" stroke-width="4.9" />
<line x1="1785.60" y1="371.68" x2="1774.10" y2="371.68" stroke="#000000" stroke-width="4.9" />
<line x1="1037.50" y1="410.05" x2="1059.30" y2="410.05" stroke="#000000" stroke-width="4.9" />
<line x1="1785.60" y1="410.05" x2="1763.00" y2="410.05" stroke="#000000" stroke-width="4.9" />
<line x1="1037.50" y1="426.58" x2="1047.60" y2="426.58" stroke="#000000" stroke-width="4.9" />
<line x1="1785.60" y1="426.58" x2="1774.10" y2="426.58" stroke="#000000" stroke-width="4.9" />
<line x1="1037.50" y1="464.95" x2="1059.30" y2="464.95" stroke="#000000" stroke-width="4.9" />
<line x1="1785.60" y1="464.95" x2="1763.00" y2="464.95" stroke="#000000" stroke-width="4.9" />
<line x1="1037.50" y1="481.48" x2="1047.60" y2="481.48" stroke="#000000" stroke-width="4.9" />
<line x1="1785.60" y1="481.48" x2="1774.10" y2="481.48" stroke="#000000" stroke-width="4.9" />
<line x1="1037.50" y1="-10.00" x2="1037.50" y2="522.60" stroke="#000000" stroke-width="5" />
<line x1="1785.60" y1="-10.00" x2="1785.60" y2="522.60" stroke="#000000" stroke-width="5" />
<line x1="1035.00" y1="519.85" x2="1788.10" y2="519.85" stroke="#000000" stroke-width="5.5" />
<line x1="1035.00" y1="-2.50" x2="1788.10" y2="-2.50" stroke="#000000" stroke-width="5.6" />
<line x1="1120.00" y1="96.60" x2="1122.90" y2="96.60" stroke="#000000" stroke-width="5" />
<rect x="1117.50" y="92.40" width="5.00" height="8.40" fill="#000000"/>
<rect x="1146.50" y="92.40" width="5.00" height="8.40" fill="#000000"/>
<circle cx="1136.40" cy="96.60" r="12.4" fill="none" stroke="#000000" stroke-width="5.0"/>
<line x1="1171.70" y1="81.10" x2="1175.30" y2="81.10" stroke="#000000" stroke-width="5" />
<rect x="1169.20" y="76.90" width="5.00" height="8.40" fill="#000000"/>
<rect x="1196.50" y="76.90" width="5.00" height="8.40" fill="#000000"/>
<circle cx="1188.80" cy="81.10" r="12.4" fill="none" stroke="#000000" stroke-width="5.0"/>
<circle cx="1227.00" cy="78.00" r="12.4" fill="none" stroke="#000000" stroke-width="5.0"/>
<circle cx="1258.00" cy="81.50" r="12.4" fill="none" stroke="#000000" stroke-width="5.0"/>
<circle cx="1291.50" cy="88.90" r="12.4" fill="none" stroke="#000000" stroke-width="5.0"/>
<circle cx="1324.80" cy="101.00" r="12.4" fill="none" stroke="#000000" stroke-width="5.0"/>
<circle cx="1360.00" cy="120.00" r="12.4" fill="none" stroke="#000000" stroke-width="5.0"/>
<line x1="1384.50" y1="153.50" x2="1395.50" y2="153.50" stroke="#000000" stroke-width="5" />
<rect x="1382.00" y="149.30" width="5.00" height="8.40" fill="#000000"/>
<line x1="1422.50" y1="153.50" x2="1426.20" y2="153.50" stroke="#000000" stroke-width="5" />
<rect x="1423.70" y="149.30" width="5.00" height="8.40" fill="#000000"/>
<circle cx="1409.00" cy="153.50" r="12.4" fill="none" stroke="#000000" stroke-width="5.0"/>
<line x1="1451.50" y1="205.00" x2="1462.50" y2="205.00" stroke="#000000" stroke-width="5" />
<rect x="1449.00" y="200.80" width="5.00" height="8.40" fill="#000000"/>
<line x1="1489.50" y1="205.00" x2="1494.00" y2="205.00" stroke="#000000" stroke-width="5" />
<rect x="1491.50" y="200.80" width="5.00" height="8.40" fill="#000000"/>
<circle cx="1476.00" cy="205.00" r="12.4" fill="none" stroke="#000000" stroke-width="5.0"/>
<line x1="1514.50" y1="273.50" x2="1543.50" y2="273.50" stroke="#000000" stroke-width="5" />
<rect x="1512.00" y="269.30" width="5.00" height="8.40" fill="#000000"/>
<line x1="1570.50" y1="273.50" x2="1582.50" y2="273.50" stroke="#000000" stroke-width="5" />
<rect x="1580.00" y="269.30" width="5.00" height="8.40" fill="#000000"/>
<circle cx="1557.00" cy="273.50" r="12.4" fill="none" stroke="#000000" stroke-width="5.0"/>
<line x1="1598.50" y1="385.50" x2="1668.20" y2="385.50" stroke="#000000" stroke-width="5" />
<rect x="1596.00" y="381.30" width="5.00" height="8.40" fill="#000000"/>
<line x1="1695.20" y1="385.50" x2="1715.50" y2="385.50" stroke="#000000" stroke-width="5" />
<rect x="1713.00" y="381.30" width="5.00" height="8.40" fill="#000000"/>
<circle cx="1681.70" cy="385.50" r="12.4" fill="none" stroke="#000000" stroke-width="5.0"/>
<line x1="1110.50" y1="52.80" x2="1123.60" y2="52.80" stroke="#ff0000" stroke-width="5" />
<rect x="1108.00" y="48.60" width="5.00" height="8.40" fill="#ff0000"/>
<line x1="1137.60" y1="52.80" x2="1151.00" y2="52.80" stroke="#ff0000" stroke-width="5" />
<rect x="1148.50" y="48.60" width="5.00" height="8.40" fill="#ff0000"/>
<path d="M1130.60,40.10 L1133.45,48.88 L1142.68,48.88 L1135.21,54.30 L1138.06,63.07 L1130.60,57.65 L1123.14,63.07 L1125.99,54.30 L1118.52,48.88 L1127.75,48.88 Z" fill="none" stroke="#ff0000" stroke-width="5.2" stroke-linejoin="miter" stroke-miterlimit="10"/>
<line x1="1168.00" y1="58.20" x2="1179.10" y2="58.20" stroke="#ff0000" stroke-width="5" />
<rect x="1165.50" y="54.00" width="5.00" height="8.40" fill="#ff0000"/>
<line x1="1193.10" y1="58.20" x2="1200.00" y2="58.20" stroke="#ff0000" stroke-width="5" />
<rect x="1197.50" y="54.00" width="5.00" height="8.40" fill="#ff0000"/>
<path d="M1186.10,45.50 L1188.95,54.28 L1198.18,54.28 L1190.71,59.70 L1193.56,68.47 L1186.10,63.05 L1178.64,68.47 L1181.49,59.70 L1174.02,54.28 L1183.25,54.28 Z" fill="none" stroke="#ff0000" stroke-width="5.2" stroke-linejoin="miter" stroke-miterlimit="10"/>
<path d="M1225.70,54.50 L1228.55,63.28 L1237.78,63.28 L1230.31,68.70 L1233.16,77.47 L1225.70,72.05 L1218.24,77.47 L1221.09,68.70 L1213.62,63.28 L1222.85,63.28 Z" fill="none" stroke="#ff0000" stroke-width="5.2" stroke-linejoin="miter" stroke-miterlimit="10"/>
<path d="M1256.50,66.50 L1259.35,75.28 L1268.58,75.28 L1261.11,80.70 L1263.96,89.47 L1256.50,84.05 L1249.04,89.47 L1251.89,80.70 L1244.42,75.28 L1253.65,75.28 Z" fill="none" stroke="#ff0000" stroke-width="5.2" stroke-linejoin="miter" stroke-miterlimit="10"/>
<path d="M1289.10,88.50 L1291.95,97.28 L1301.18,97.28 L1293.71,102.70 L1296.56,111.47 L1289.10,106.05 L1281.64,111.47 L1284.49,102.70 L1277.02,97.28 L1286.25,97.28 Z" fill="none" stroke="#ff0000" stroke-width="5.2" stroke-linejoin="miter" stroke-miterlimit="10"/>
<path d="M1323.00,117.10 L1325.85,125.88 L1335.08,125.88 L1327.61,131.30 L1330.46,140.07 L1323.00,134.65 L1315.54,140.07 L1318.39,131.30 L1310.92,125.88 L1320.15,125.88 Z" fill="none" stroke="#ff0000" stroke-width="5.2" stroke-linejoin="miter" stroke-miterlimit="10"/>
<path d="M1356.50,145.50 L1359.35,154.28 L1368.58,154.28 L1361.11,159.70 L1363.96,168.47 L1356.50,163.05 L1349.04,168.47 L1351.89,159.70 L1344.42,154.28 L1353.65,154.28 Z" fill="none" stroke="#ff0000" stroke-width="5.2" stroke-linejoin="miter" stroke-miterlimit="10"/>
<line x1="1380.60" y1="204.80" x2="1397.90" y2="204.80" stroke="#ff0000" stroke-width="5" />
<rect x="1378.10" y="200.60" width="5.00" height="8.40" fill="#ff0000"/>
<line x1="1411.90" y1="204.80" x2="1421.50" y2="204.80" stroke="#ff0000" stroke-width="5" />
<rect x="1419.00" y="200.60" width="5.00" height="8.40" fill="#ff0000"/>
<path d="M1404.90,192.10 L1407.75,200.88 L1416.98,200.88 L1409.51,206.30 L1412.36,215.07 L1404.90,209.65 L1397.44,215.07 L1400.29,206.30 L1392.82,200.88 L1402.05,200.88 Z" fill="none" stroke="#ff0000" stroke-width="5.2" stroke-linejoin="miter" stroke-miterlimit="10"/>
<line x1="1451.80" y1="263.60" x2="1469.00" y2="263.60" stroke="#ff0000" stroke-width="5" />
<rect x="1449.30" y="259.40" width="5.00" height="8.40" fill="#ff0000"/>
<line x1="1483.00" y1="263.60" x2="1494.30" y2="263.60" stroke="#ff0000" stroke-width="5" />
<rect x="1491.80" y="259.40" width="5.00" height="8.40" fill="#ff0000"/>
<path d="M1476.00,250.90 L1478.85,259.68 L1488.08,259.68 L1480.61,265.10 L1483.46,273.87 L1476.00,268.45 L1468.54,273.87 L1471.39,265.10 L1463.92,259.68 L1473.15,259.68 Z" fill="none" stroke="#ff0000" stroke-width="5.2" stroke-linejoin="miter" stroke-miterlimit="10"/>
<line x1="1525.50" y1="330.50" x2="1557.20" y2="330.50" stroke="#ff0000" stroke-width="5" />
<rect x="1523.00" y="326.30" width="5.00" height="8.40" fill="#ff0000"/>
<line x1="1571.20" y1="330.50" x2="1587.30" y2="330.50" stroke="#ff0000" stroke-width="5" />
<rect x="1584.80" y="326.30" width="5.00" height="8.40" fill="#ff0000"/>
<path d="M1564.20,317.80 L1567.05,326.58 L1576.28,326.58 L1568.81,332.00 L1571.66,340.77 L1564.20,335.35 L1556.74,340.77 L1559.59,332.00 L1552.12,326.58 L1561.35,326.58 Z" fill="none" stroke="#ff0000" stroke-width="5.2" stroke-linejoin="miter" stroke-miterlimit="10"/>
<line x1="1627.40" y1="428.00" x2="1682.70" y2="428.00" stroke="#ff0000" stroke-width="5" />
<rect x="1624.90" y="423.80" width="5.00" height="8.40" fill="#ff0000"/>
<line x1="1696.70" y1="428.00" x2="1720.00" y2="428.00" stroke="#ff0000" stroke-width="5" />
<rect x="1717.50" y="423.80" width="5.00" height="8.40" fill="#ff0000"/>
<path d="M1689.70,415.30 L1692.55,424.08 L1701.78,424.08 L1694.31,429.50 L1697.16,438.27 L1689.70,432.85 L1682.24,438.27 L1685.09,429.50 L1677.62,424.08 L1686.85,424.08 Z" fill="none" stroke="#ff0000" stroke-width="5.2" stroke-linejoin="miter" stroke-miterlimit="10"/>
<line x1="1130.10" y1="188.00" x2="1133.10" y2="188.00" stroke="#0566cd" stroke-width="5" />
<rect x="1127.60" y="183.80" width="5.00" height="8.40" fill="#0566cd"/>
<line x1="1150.10" y1="188.00" x2="1152.00" y2="188.00" stroke="#0566cd" stroke-width="5" />
<rect x="1149.50" y="183.80" width="5.00" height="8.40" fill="#0566cd"/>
<path d="M1128.30,200.00 L1154.90,200.00 L1141.60,176.00 Z" fill="none" stroke="#0566cd" stroke-width="5.0" stroke-linejoin="miter" stroke-miterlimit="10"/>
<line x1="1177.50" y1="122.00" x2="1184.30" y2="122.00" stroke="#0566cd" stroke-width="5" />
<rect x="1175.00" y="117.80" width="5.00" height="8.40" fill="#0566cd"/>
<line x1="1201.30" y1="122.00" x2="1204.50" y2="122.00" stroke="#0566cd" stroke-width="5" />
<rect x="1202.00" y="117.80" width="5.00" height="8.40" fill="#0566cd"/>
<path d="M1179.50,134.00 L1206.10,134.00 L1192.80,110.00 Z" fill="none" stroke="#0566cd" stroke-width="5.0" stroke-linejoin="miter" stroke-miterlimit="10"/>
<path d="M1214.30,118.10 L1240.90,118.10 L1227.60,94.10 Z" fill="none" stroke="#0566cd" stroke-width="5.0" stroke-linejoin="miter" stroke-miterlimit="10"/>
<path d="M1245.50,108.70 L1272.10,108.70 L1258.80,84.70 Z" fill="none" stroke="#0566cd" stroke-width="5.0" stroke-linejoin="miter" stroke-miterlimit="10"/>
<path d="M1277.90,110.70 L1304.50,110.70 L1291.20,86.70 Z" fill="none" stroke="#0566cd" stroke-width="5.0" stroke-linejoin="miter" stroke-miterlimit="10"/>
<path d="M1311.00,118.80 L1337.60,118.80 L1324.30,94.80 Z" fill="none" stroke="#0566cd" stroke-width="5.0" stroke-linejoin="miter" stroke-miterlimit="10"/>
<path d="M1344.70,134.20 L1371.30,134.20 L1358.00,110.20 Z" fill="none" stroke="#0566cd" stroke-width="5.0" stroke-linejoin="miter" stroke-miterlimit="10"/>
<line x1="1384.50" y1="151.00" x2="1400.50" y2="151.00" stroke="#0566cd" stroke-width="5" />
<rect x="1382.00" y="146.80" width="5.00" height="8.40" fill="#0566cd"/>
<line x1="1417.50" y1="151.00" x2="1426.20" y2="151.00" stroke="#0566cd" stroke-width="5" />
<rect x="1423.70" y="146.80" width="5.00" height="8.40" fill="#0566cd"/>
<path d="M1395.70,163.00 L1422.30,163.00 L1409.00,139.00 Z" fill="none" stroke="#0566cd" stroke-width="5.0" stroke-linejoin="miter" stroke-miterlimit="10"/>
<line x1="1451.30" y1="199.00" x2="1467.50" y2="199.00" stroke="#0566cd" stroke-width="5" />
<rect x="1448.80" y="194.80" width="5.00" height="8.40" fill="#0566cd"/>
<line x1="1484.50" y1="199.00" x2="1493.80" y2="199.00" stroke="#0566cd" stroke-width="5" />
<rect x="1491.30" y="194.80" width="5.00" height="8.40" fill="#0566cd"/>
<path d="M1462.70,211.00 L1489.30,211.00 L1476.00,187.00 Z" fill="none" stroke="#0566cd" stroke-width="5.0" stroke-linejoin="miter" stroke-miterlimit="10"/>
<line x1="1514.40" y1="265.20" x2="1548.90" y2="265.20" stroke="#0566cd" stroke-width="5" />
<rect x="1511.90" y="261.00" width="5.00" height="8.40" fill="#0566cd"/>
<line x1="1565.90" y1="265.20" x2="1582.50" y2="265.20" stroke="#0566cd" stroke-width="5" />
<rect x="1580.00" y="261.00" width="5.00" height="8.40" fill="#0566cd"/>
<path d="M1544.10,277.20 L1570.70,277.20 L1557.40,253.20 Z" fill="none" stroke="#0566cd" stroke-width="5.0" stroke-linejoin="miter" stroke-miterlimit="10"/>
<line x1="1596.80" y1="373.20" x2="1673.20" y2="373.20" stroke="#0566cd" stroke-width="5" />
<rect x="1594.30" y="369.00" width="5.00" height="8.40" fill="#0566cd"/>
<line x1="1690.20" y1="373.20" x2="1715.50" y2="373.20" stroke="#0566cd" stroke-width="5" />
<rect x="1713.00" y="369.00" width="5.00" height="8.40" fill="#0566cd"/>
<path d="M1668.40,385.20 L1695.00,385.20 L1681.70,361.20 Z" fill="none" stroke="#0566cd" stroke-width="5.0" stroke-linejoin="miter" stroke-miterlimit="10"/>
<path d="M1133.50,99.80 L1160.20,95.10 L1188.80,87.00 L1226.80,83.60 L1258.00,84.30 L1291.50,92.40 L1324.50,103.00 L1358.00,118.50 L1409.00,157.00 L1476.00,204.00 L1557.50,271.00 L1679.50,376.50" fill="none" stroke="#000000" stroke-width="5.5" stroke-linejoin="round" />
<path d="M1139.10,159.50 L1192.80,108.00 L1227.30,91.20 L1256.30,87.60 L1291.50,92.30 L1324.10,102.60 L1358.20,118.10 L1409.00,150.00 L1476.00,198.00 L1557.50,262.00 L1681.70,368.00" fill="none" stroke="#0566cd" stroke-width="5.5" stroke-linejoin="round" />
<path d="M1128.50,52.90 L1186.10,58.60 L1225.70,62.70 L1256.50,72.20 L1289.10,90.80 L1323.00,115.50 L1356.50,145.00 L1405.00,192.70 L1476.00,257.70 L1564.00,330.30 L1678.00,431.00" fill="none" stroke="#ff0000" stroke-width="5.5" stroke-linejoin="round" />
<path d="M1128.50,53.40 L1186.10,59.60 L1225.70,63.70 L1256.50,73.70 L1289.10,93.30 L1323.00,118.50 L1356.50,148.00 L1405.00,195.70 L1476.00,260.70 L1564.00,333.30 L1678.00,434.00" fill="none" stroke="#ff0000" stroke-width="5.5" stroke-linejoin="round" stroke-dasharray="6.7 13.3" stroke-dashoffset="0"/>
<path d="M1139.10,156.50 L1192.80,105.00 L1227.30,88.70 L1256.30,85.60 L1291.50,91.30 L1324.10,102.10 L1358.20,117.60 L1409.00,150.00 L1476.00,198.50 L1557.50,263.00 L1681.70,369.00" fill="none" stroke="#0566cd" stroke-width="5.5" stroke-linejoin="round" stroke-dasharray="6.7 13.3" stroke-dashoffset="0"/>
<path d="M1133.50,96.80 L1160.20,91.10 L1188.80,85.00 L1226.80,83.10 L1258.00,84.00 L1291.50,92.10 L1324.50,102.70 L1358.00,118.50 L1409.00,158.00 L1476.00,206.50 L1557.50,274.00 L1679.50,379.50" fill="none" stroke="#000000" stroke-width="5.5" stroke-linejoin="round" stroke-dasharray="6.7 13.3" stroke-dashoffset="0"/>
<rect x="1132.00" y="94.30" width="9.00" height="11.00" fill="#000000"/>
<rect x="1673.50" y="371.50" width="9.00" height="9.50" fill="#000000"/>
<rect x="1127.00" y="47.40" width="9.00" height="11.00" fill="#ff0000"/>
<rect x="1672.00" y="426.00" width="9.00" height="9.50" fill="#ff0000"/>
<rect x="1137.60" y="154.00" width="9.00" height="11.00" fill="#0566cd"/>
<rect x="1675.70" y="363.00" width="9.00" height="9.50" fill="#0566cd"/>
<text transform="translate(189.50,574.40) scale(1,1.035)" font-size="42" text-anchor="start" font-weight="normal" font-style="normal" >10</text>
<text transform="translate(236.40,555.20) scale(1,1.035)" font-size="28" text-anchor="start" font-weight="normal" font-style="normal" >−</text>
<text transform="translate(253.70,555.20) scale(1,1.035)" font-size="28" text-anchor="start" font-weight="normal" font-style="normal" >1</text>
<text transform="translate(363.20,574.40) scale(1,1.035)" font-size="42" text-anchor="middle" font-weight="normal" font-style="normal" >1</text>
<text transform="translate(497.30,574.40) scale(1,1.035)" font-size="42" text-anchor="middle" font-weight="normal" font-style="normal" >10</text>
<text transform="translate(598.05,574.40) scale(1,1.035)" font-size="42" text-anchor="start" font-weight="normal" font-style="normal" >10</text>
<text transform="translate(645.65,555.20) scale(1,1.035)" font-size="27.5" text-anchor="start" font-weight="normal" font-style="normal" >2</text>
<text transform="translate(732.15,574.40) scale(1,1.035)" font-size="42" text-anchor="start" font-weight="normal" font-style="normal" >10</text>
<text transform="translate(779.75,555.20) scale(1,1.035)" font-size="27.5" text-anchor="start" font-weight="normal" font-style="normal" >3</text>
<text transform="translate(866.25,574.40) scale(1,1.035)" font-size="42" text-anchor="start" font-weight="normal" font-style="normal" >10</text>
<text transform="translate(913.85,555.20) scale(1,1.035)" font-size="27.5" text-anchor="start" font-weight="normal" font-style="normal" >4</text>
<text transform="translate(1045.20,574.40) scale(1,1.035)" font-size="42" text-anchor="start" font-weight="normal" font-style="normal" >10</text>
<text transform="translate(1092.10,555.20) scale(1,1.035)" font-size="28" text-anchor="start" font-weight="normal" font-style="normal" >−</text>
<text transform="translate(1109.40,555.20) scale(1,1.035)" font-size="28" text-anchor="start" font-weight="normal" font-style="normal" >1</text>
<text transform="translate(1223.70,574.40) scale(1,1.035)" font-size="42" text-anchor="middle" font-weight="normal" font-style="normal" >1</text>
<text transform="translate(1362.60,574.40) scale(1,1.035)" font-size="42" text-anchor="middle" font-weight="normal" font-style="normal" >10</text>
<text transform="translate(1468.15,574.40) scale(1,1.035)" font-size="42" text-anchor="start" font-weight="normal" font-style="normal" >10</text>
<text transform="translate(1515.75,555.20) scale(1,1.035)" font-size="27.5" text-anchor="start" font-weight="normal" font-style="normal" >2</text>
<text transform="translate(1607.05,574.40) scale(1,1.035)" font-size="42" text-anchor="start" font-weight="normal" font-style="normal" >10</text>
<text transform="translate(1654.65,555.20) scale(1,1.035)" font-size="27.5" text-anchor="start" font-weight="normal" font-style="normal" >3</text>
<text transform="translate(1745.95,574.40) scale(1,1.035)" font-size="42" text-anchor="start" font-weight="normal" font-style="normal" >10</text>
<text transform="translate(1793.55,555.20) scale(1,1.035)" font-size="27.5" text-anchor="start" font-weight="normal" font-style="normal" >4</text>
<text transform="translate(173.60,41.15) scale(1,1.035)" font-size="42" text-anchor="end" font-weight="normal" font-style="normal" >1</text>
<text transform="translate(90.30,154.55) scale(1,1.035)" font-size="42" text-anchor="start" font-weight="normal" font-style="normal" >10</text>
<text transform="translate(136.40,135.85) scale(1,1.035)" font-size="27.5" text-anchor="start" font-weight="normal" font-style="normal" >−</text>
<text transform="translate(153.90,135.85) scale(1,1.035)" font-size="27.5" text-anchor="start" font-weight="normal" font-style="normal" >2</text>
<text transform="translate(90.30,319.25) scale(1,1.035)" font-size="42" text-anchor="start" font-weight="normal" font-style="normal" >10</text>
<text transform="translate(136.40,300.55) scale(1,1.035)" font-size="27.5" text-anchor="start" font-weight="normal" font-style="normal" >−</text>
<text transform="translate(153.90,300.55) scale(1,1.035)" font-size="27.5" text-anchor="start" font-weight="normal" font-style="normal" >5</text>
<text transform="translate(90.30,483.95) scale(1,1.035)" font-size="42" text-anchor="start" font-weight="normal" font-style="normal" >10</text>
<text transform="translate(136.40,465.25) scale(1,1.035)" font-size="27.5" text-anchor="start" font-weight="normal" font-style="normal" >−</text>
<text transform="translate(153.90,465.25) scale(1,1.035)" font-size="27.5" text-anchor="start" font-weight="normal" font-style="normal" >8</text>
<text transform="translate(742.60,606.40) scale(1,1.035)" font-size="42" text-anchor="start" font-weight="normal" font-style="italic" >t</text>
<text transform="translate(765.80,620.80) scale(1,1.035)" font-size="27" text-anchor="start" font-weight="normal" font-style="normal" >form</text>
<text transform="translate(831.00,606.30) scale(1,1.035)" font-size="42" text-anchor="start" font-weight="normal" font-style="normal" >(fm)</text>
<text transform="translate(1622.20,606.40) scale(1,1.035)" font-size="42" text-anchor="start" font-weight="normal" font-style="italic" >t</text>
<text transform="translate(1645.40,620.80) scale(1,1.035)" font-size="27" text-anchor="start" font-weight="normal" font-style="normal" >form</text>
<text transform="translate(1710.60,606.30) scale(1,1.035)" font-size="42" text-anchor="start" font-weight="normal" font-style="normal" >(fm)</text>
<g transform="translate(74.7,276.4) rotate(-90)">
<text transform="translate(0.00,0.00) scale(1,1.035)" font-size="42" text-anchor="start" font-weight="normal" font-style="normal" >1/N</text>
<text transform="translate(72.00,13.70) scale(1,1.035)" font-size="27" text-anchor="start" font-weight="normal" font-style="normal" >jet</text>
<text transform="translate(114.50,0.00) scale(1,1.035)" font-size="42" text-anchor="start" font-weight="normal" font-style="normal" >dN/d</text>
<text transform="translate(203.80,0.00) scale(1,1.035)" font-size="42" text-anchor="start" font-weight="normal" font-style="italic" >t</text>
<text transform="translate(227.50,14.40) scale(1,1.035)" font-size="27" text-anchor="start" font-weight="normal" font-style="normal" >form</text>
</g>
<text transform="translate(378.60,49.10) scale(1.049,1.035)" font-size="42" text-anchor="start" font-weight="bold" font-style="normal" >H1 Preliminary</text>
<text transform="translate(1239.50,49.10) scale(1.049,1.035)" font-size="42" text-anchor="start" font-weight="bold" font-style="normal" >H1 Preliminary</text>
<text transform="translate(554.50,116.80) scale(1,1.035)" font-size="36" text-anchor="start" font-weight="normal" font-style="normal" >(</text>
<text transform="translate(566.00,116.80) scale(1,1.035)" font-size="36" text-anchor="start" font-weight="normal" font-style="normal" >h</text>
<text transform="translate(585.60,135.20) scale(1,1.035)" font-size="21.5" text-anchor="start" font-weight="normal" font-style="normal" >1</text>
<text transform="translate(593.60,116.80) scale(1,1.035)" font-size="36" text-anchor="start" font-weight="normal" font-style="normal" >h</text>
<text transform="translate(612.60,127.70) scale(1,1.035)" font-size="21.5" text-anchor="start" font-weight="normal" font-style="normal" >2</text>
<text transform="translate(634.80,116.80) scale(1,1.035)" font-size="36" text-anchor="start" font-weight="normal" font-style="normal" >same sign)</text>
<text transform="translate(1445.40,116.50) scale(1,1.035)" font-size="36" text-anchor="start" font-weight="normal" font-style="normal" >(</text>
<text transform="translate(1456.90,116.50) scale(1,1.035)" font-size="36" text-anchor="start" font-weight="normal" font-style="normal" >h</text>
<text transform="translate(1476.50,134.90) scale(1,1.035)" font-size="21.5" text-anchor="start" font-weight="normal" font-style="normal" >1</text>
<text transform="translate(1484.50,116.50) scale(1,1.035)" font-size="36" text-anchor="start" font-weight="normal" font-style="normal" >h</text>
<text transform="translate(1503.50,127.40) scale(1,1.035)" font-size="21.5" text-anchor="start" font-weight="normal" font-style="normal" >2</text>
<text transform="translate(1525.70,116.50) scale(1,1.035)" font-size="36" text-anchor="start" font-weight="normal" font-style="normal" >opposite sign)</text>
<text transform="translate(290.00,334.20) scale(1,1.035)" font-size="35.6" text-anchor="start" font-weight="normal" font-style="normal" >Data</text>
<circle cx="269.60" cy="370.80" r="8.45" fill="none" stroke="#000000" stroke-width="5.4"/>
<path d="M269.70,398.70 L273.45,410.24 L285.58,410.24 L275.77,417.37 L279.52,428.91 L269.70,421.78 L259.88,428.91 L263.63,417.37 L253.82,410.24 L265.95,410.24 Z" fill="#ff0000"/>
<path d="M260.65,468.00 L278.45,468.00 L269.55,451.60 Z" fill="none" stroke="#0566cd" stroke-width="5.4" stroke-linejoin="miter" stroke-miterlimit="10"/>
<text transform="translate(290.90,380.30) scale(1,1.035)" font-size="35.6" text-anchor="start" font-weight="normal" font-style="normal" >h</text>
<text transform="translate(310.20,390.30) scale(1,1.035)" font-size="22" text-anchor="start" font-weight="normal" font-style="normal" >1</text>
<text transform="translate(317.80,380.30) scale(1,1.035)" font-size="35.6" text-anchor="start" font-weight="normal" font-style="normal" >h</text>
<text transform="translate(336.90,390.30) scale(1,1.035)" font-size="22" text-anchor="start" font-weight="normal" font-style="normal" >2</text>
<text transform="translate(289.80,424.80) scale(1,1.035)" font-size="35.6" text-anchor="start" font-weight="normal" font-style="normal" >1</text>
<text transform="translate(305.80,405.50) scale(1,1.035)" font-size="22" text-anchor="start" font-weight="normal" font-style="normal" >st</text>
<text transform="translate(333.60,424.80) scale(1,1.035)" font-size="35.6" text-anchor="start" font-weight="normal" font-style="normal" >Split</text>
<text transform="translate(290.40,468.90) scale(1,1.035)" font-size="35.6" text-anchor="start" font-weight="normal" font-style="normal" >2</text>
<text transform="translate(309.30,449.60) scale(1,1.035)" font-size="22" text-anchor="start" font-weight="normal" font-style="normal" >nd+</text>
<text transform="translate(359.40,468.90) scale(1,1.035)" font-size="35.6" text-anchor="start" font-weight="normal" font-style="normal" >Split</text>
<text transform="translate(1124.80,333.80) scale(1,1.035)" font-size="29.5" text-anchor="start" font-weight="normal" font-style="normal" >DJANGOH</text>
<text transform="translate(1337.00,333.80) scale(1,1.035)" font-size="31.4" text-anchor="start" font-weight="normal" font-style="normal" >RAPGAP</text>
<line x1="1085.90" y1="370.50" x2="1118.30" y2="370.50" stroke="#000000" stroke-width="5.6" />
<rect x="1299.90" y="367.50" width="6.80" height="6.00" fill="#000000"/>
<rect x="1319.60" y="367.50" width="6.80" height="6.00" fill="#000000"/>
<line x1="1085.90" y1="415.00" x2="1118.30" y2="415.00" stroke="#ff0000" stroke-width="5.6" />
<rect x="1299.90" y="412.00" width="6.80" height="6.00" fill="#ff0000"/>
<rect x="1319.60" y="412.00" width="6.80" height="6.00" fill="#ff0000"/>
<line x1="1085.90" y1="460.00" x2="1118.30" y2="460.00" stroke="#0566cd" stroke-width="5.6" />
<rect x="1299.90" y="457.00" width="6.80" height="6.00" fill="#0566cd"/>
<rect x="1319.60" y="457.00" width="6.80" height="6.00" fill="#0566cd"/>
<text transform="translate(1124.80,380.60) scale(1,1.035)" font-size="29.5" text-anchor="start" font-weight="normal" font-style="normal" >h</text>
<text transform="translate(1139.40,388.60) scale(1,1.035)" font-size="18" text-anchor="start" font-weight="normal" font-style="normal" >1</text>
<text transform="translate(1147.60,380.60) scale(1,1.035)" font-size="29.5" text-anchor="start" font-weight="normal" font-style="normal" >h</text>
<text transform="translate(1161.70,388.60) scale(1,1.035)" font-size="18" text-anchor="start" font-weight="normal" font-style="normal" >2</text>
<text transform="translate(1124.60,424.80) scale(1,1.035)" font-size="29.5" text-anchor="start" font-weight="normal" font-style="normal" >1</text>
<text transform="translate(1135.40,407.80) scale(1,1.035)" font-size="18" text-anchor="start" font-weight="normal" font-style="normal" >st</text>
<text transform="translate(1158.00,424.80) scale(1,1.035)" font-size="29.5" text-anchor="start" font-weight="normal" font-style="normal" >Prong</text>
<text transform="translate(1124.60,468.90) scale(1,1.035)" font-size="29.5" text-anchor="start" font-weight="normal" font-style="normal" >2</text>
<text transform="translate(1141.00,451.60) scale(1,1.035)" font-size="18" text-anchor="start" font-weight="normal" font-style="normal" >nd+</text>
<text transform="translate(1181.30,468.90) scale(1,1.035)" font-size="29.5" text-anchor="start" font-weight="normal" font-style="normal" >Prong</text>
<text transform="translate(1337.00,380.60) scale(1,1.035)" font-size="31" text-anchor="start" font-weight="normal" font-style="normal" >h</text>
<text transform="translate(1355.40,388.60) scale(1,1.035)" font-size="19" text-anchor="start" font-weight="normal" font-style="normal" >1</text>
<text transform="translate(1362.80,380.60) scale(1,1.035)" font-size="31" text-anchor="start" font-weight="normal" font-style="normal" >h</text>
<text transform="translate(1379.20,388.60) scale(1,1.035)" font-size="19" text-anchor="start" font-weight="normal" font-style="normal" >2</text>
<text transform="translate(1336.60,424.80) scale(1,1.035)" font-size="31" text-anchor="start" font-weight="normal" font-style="normal" >1</text>
<text transform="translate(1350.20,407.50) scale(1,1.035)" font-size="19.5" text-anchor="start" font-weight="normal" font-style="normal" >st</text>
<text transform="translate(1374.90,424.80) scale(1,1.035)" font-size="31" text-anchor="start" font-weight="normal" font-style="normal" >Prong</text>
<text transform="translate(1336.60,468.90) scale(1,1.035)" font-size="31" text-anchor="start" font-weight="normal" font-style="normal" >2</text>
<text transform="translate(1354.20,451.60) scale(1,1.035)" font-size="19.5" text-anchor="start" font-weight="normal" font-style="normal" >nd+</text>
<text transform="translate(1398.80,468.90) scale(1,1.035)" font-size="31" text-anchor="start" font-weight="normal" font-style="normal" >Prong</text>
</svg>
</body></html>
